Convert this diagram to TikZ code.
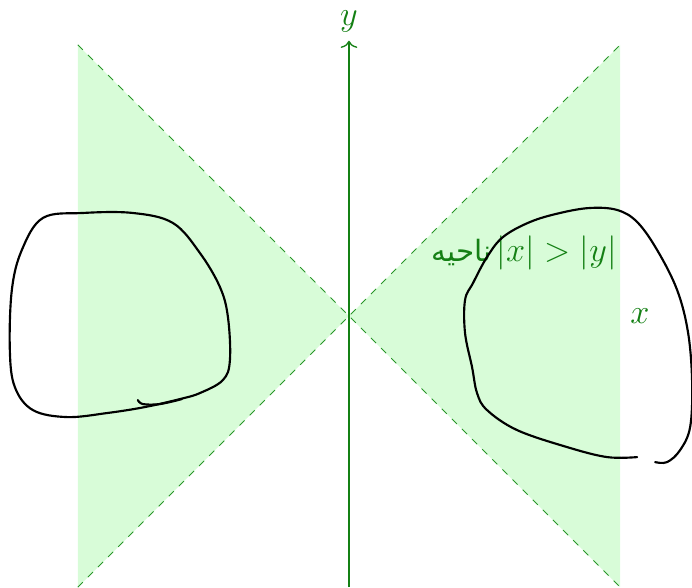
\documentclass[tikz,border=0pt]{standalone}
\usepackage{fontspec}
\newfontfamily\persianfont[Script=Arabic,Scale=0.88]{DejaVu Sans}
\TeXXeTstate=1
\usetikzlibrary{arrows,arrows.meta,positioning}

\definecolor{regionfill}{RGB}{216,252,216}
\definecolor{axisgreen}{RGB}{20,128,20}
\definecolor{dashgreen}{RGB}{40,150,40}

\tikzset{
    region/.style={fill=regionfill, draw=none},
    border/.style={dashed, draw=dashgreen, thin},
    axis/.style={-{To[length=3pt,width=7pt]}, draw=axisgreen, line width=0.55pt},
    lbl/.style={text=axisgreen, font=\fontsize{14}{16}\selectfont},
    hand/.style={draw=black, line width=0.9pt, line cap=round, line join=round}
}

\begin{document}
\begin{tikzpicture}
        \useasboundingbox (-5.147,-3.997) rectangle (5.059,4.661);

        % Region |x| > |y|
        \fill[region] (0,0) -- (4,4) -- (4,-4) -- cycle;
        \fill[region] (0,0) -- (-4,4) -- (-4,-4) -- cycle;

        % Boundary lines y = x and y = -x
        \coordinate (nw) at (-4,4);
        \coordinate (se) at (4,-4);
        \coordinate (sw) at (-4,-4);
        \coordinate (ne) at (4,4);
        \draw[border] (nw) -- (se);
        \draw[border] (sw) -- (ne);

        % Axis
        \coordinate (ybot) at (0,-4);
        \coordinate (ytop) at (0,4.06);
        \draw[axis] (ybot) -- (ytop);
        \node[lbl, above=0pt of ytop] (ylabel) {$y$};
        \node[lbl] (xlabel) at (4.29,0) {$x$};

        % Region label
        \node[lbl, anchor=east] (regionlabel) at (4.07,0.93)
            {\mbox{\persianfont\beginR ناحیه\endR}\hspace{2pt}$|x|>|y|$};

        % Hand drawn loops (pixel coordinates)
        \begin{scope}[x=0.01475cm, y=-0.01475cm, shift={(-349,-316)}]
            \draw[hand] plot[smooth cycle, tension=0.6] coordinates {
                (43,218) (83,213) (133,213) (173,223) (200,253) (220,287)
                (228,317) (230,360) (223,380) (200,393) (180,399) (145,407)
                (107,413) (67,417) (33,410) (15,387) (10,350) (12,290) (22,250)};
            \draw[hand] plot[smooth, tension=0.6] coordinates {
                (138,400) (143,404) (160,404) (182,399)};
            \draw[hand] plot[smooth, tension=0.6] coordinates {
                (637,457) (607,457) (567,447) (517,430) (487,410) (477,393)
                (472,367) (465,333) (465,300) (473,283) (487,257) (503,237)
                (530,222) (560,213) (590,208) (617,210) (637,222) (657,250)
                (677,290) (688,333) (692,383) (690,427) (680,450) (667,462)
                (655,462)};
        \end{scope}
\end{tikzpicture}
\end{document}
